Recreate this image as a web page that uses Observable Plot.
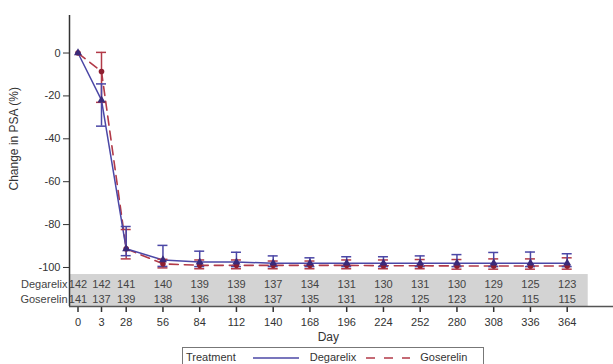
<!DOCTYPE html>
<html>
<head>
<meta charset="utf-8">
<script src="https://cdn.jsdelivr.net/npm/d3@7"></script>
<script src="https://cdn.jsdelivr.net/npm/@observablehq/plot@0.6"></script>
<style>
  html, body { margin: 0; padding: 0; background: #fff; }
  body { width: 613px; height: 364px; overflow: hidden; font-family: "Liberation Sans", Arial, sans-serif; }
  #legend {
    position: absolute; left: 182px; top: 347px; width: 302px; height: 20px;
    border: 1px solid #777; box-sizing: border-box; font-size: 11px; color: #333;
    display: flex; align-items: center; white-space: nowrap;
  }
  #legend span { display: inline-block; }
  #legend svg { display: inline-block; }
</style>
</head>
<body>
<div id="chart"></div>
<div id="legend"></div>
<script>
// ---- data ----
const days = [0, 3, 28, 56, 84, 112, 140, 168, 196, 224, 252, 280, 308, 336, 364];
const degarelixMean  = [0, -22, -91.3, -96.5, -97.5, -97.5, -98, -98, -98, -98, -98, -98, -98, -98, -98];
const degarelixUpper = [0, -14.4, -80.9, -89.7, -92.4, -92.9, -94.6, -95.5, -95, -95, -94.6, -94, -93, -92.8, -93.6];
const degarelixLower = [0, -34.1, -94.5, -99.5, -99.6, -99.6, -99.6, -99.6, -99.6, -99.6, -99.6, -99.6, -99.6, -99.6, -99.6];
const goserelinMean  = [0, -8.6, -91.3, -98.3, -99, -99, -99, -99, -99, -99.2, -99.2, -99.3, -99.3, -99.3, -99.3];
const goserelinUpper = [0, 0.3, -82.3, -96.2, -96.5, -96.5, -97, -97, -96.5, -96.5, -96.3, -96.3, -96, -96, -95.5];
const goserelinLower = [0, -23, -96, -100.2, -100.6, -100.6, -100.6, -100.6, -100.6, -100.6, -100.6, -100.8, -100.8, -100.8, -100.8];
const degarelixN = [142, 142, 141, 140, 139, 139, 137, 134, 131, 130, 131, 130, 129, 125, 123];
const goserelinN = [141, 137, 139, 138, 136, 138, 137, 135, 131, 128, 125, 123, 120, 115, 115];
const yTicks = [0, -20, -40, -60, -80, -100];
const treatments = ["Degarelix", "Goserelin"];

// ---- layout constants ----
const xMin = -1, xMax = 400;
const yMin = -118.2, yMax = 17.5;
const bandTop = -103.3, bandEnd = 380;
const rowY = {Degarelix: -108.1, Goserelin: -114.9};
const blue = "#4b47a6", red = "#b23a48";
// piecewise day axis (0–3–28 stretched, then linear)
const dayPos = d3.scaleLinear().domain([xMin, 0, 3, 28, 364, xMax]).range([69, 77.5, 101, 125.7, 566.7, 614]);

const toRows = (name, mean, up, lo, n) => days.map((d, i) => ({
  treatment: name, day: d, mean: mean[i], upper: up[i], lower: lo[i], n: n[i]
}));
const deg = toRows("Degarelix", degarelixMean, degarelixUpper, degarelixLower, degarelixN);
const gos = toRows("Goserelin", goserelinMean, goserelinUpper, goserelinLower, goserelinN);
const hasBar = r => r.upper !== r.lower;

const chart = Plot.plot({
  width: 613,
  height: 346,
  marginLeft: 69,
  marginRight: 0,
  marginTop: 15,
  marginBottom: 40,
  style: {fontFamily: "'Liberation Sans', Arial, sans-serif", fontSize: "11px", color: "#333", background: "#fff"},
  x: {transform: d => dayPos(d), domain: [dayPos(xMin), dayPos(xMax)], range: [dayPos(xMin), dayPos(xMax)], axis: null},
  y: {domain: [yMin, yMax]},
  marks: [
    Plot.rect([0], {x1: () => xMin, x2: () => bandEnd, y1: () => yMin, y2: () => bandTop, fill: "#d3d3d3"}),
    Plot.axisY({ticks: yTicks, tickSize: 6, tickPadding: 3, tickFormat: d => String(d), label: null, stroke: "#333", fill: "#333", fontSize: 11}),
    // x axis ticks and labels (day scale)
    Plot.ruleX(days, {x: d => d, y1: () => yMin, y2: () => yMin, insetBottom: -6, stroke: "#333", strokeWidth: 1.5}),
    Plot.text(days, {x: d => d, y: () => yMin, dy: 16, text: d => String(d), fill: "#333", fontSize: 11}),
    Plot.ruleX([xMin], {y1: yMin, y2: yMax, stroke: "#333", strokeWidth: 1.5}),
    Plot.ruleY([yMin], {stroke: "#555", strokeWidth: 1.5}),
    // lines
    Plot.line(gos, {x: "day", y: "mean", stroke: red, strokeWidth: 1.6, strokeDasharray: "9,6"}),
    Plot.line(deg, {x: "day", y: "mean", stroke: blue, strokeWidth: 1.5}),
    // error bars
    Plot.ruleX(gos.filter(hasBar), {x: "day", y1: "lower", y2: "upper", stroke: red, strokeWidth: 1.5}),
    Plot.ruleY(gos.filter(hasBar), {x1: "day", x2: "day", y: "upper", stroke: red, strokeWidth: 1.5, insetLeft: -5, insetRight: -5}),
    Plot.ruleY(gos.filter(hasBar), {x1: "day", x2: "day", y: "lower", stroke: red, strokeWidth: 1.5, insetLeft: -5, insetRight: -5}),
    Plot.ruleX(deg.filter(hasBar), {x: "day", y1: "lower", y2: "upper", stroke: blue, strokeWidth: 1.5}),
    Plot.ruleY(deg.filter(hasBar), {x1: "day", x2: "day", y: "upper", stroke: blue, strokeWidth: 1.5, insetLeft: -5, insetRight: -5}),
    Plot.ruleY(deg.filter(hasBar), {x1: "day", x2: "day", y: "lower", stroke: blue, strokeWidth: 1.5, insetLeft: -5, insetRight: -5}),
    // markers
    Plot.dot(gos, {x: "day", y: "mean", r: 2.8, fill: "#8e1f30", stroke: "none"}),
    Plot.dot(deg, {x: "day", y: "mean", r: 3, symbol: "triangle", fill: "#3a2a7a", stroke: "none"}),
    // number at risk table
    Plot.text(deg, {x: "day", y: () => rowY.Degarelix, text: d => String(d.n), fill: "#444", fontSize: 11}),
    Plot.text(gos, {x: "day", y: () => rowY.Goserelin, text: d => String(d.n), fill: "#444", fontSize: 11}),
    Plot.text(treatments, {frameAnchor: "left", y: d => rowY[d], text: d => d, textAnchor: "end", dx: -2, fill: "#444", fontSize: 11}),
    // axis titles
    Plot.text(["Change in PSA (%)"], {x: () => xMin, y: () => -40, text: d => d, rotate: -90, dx: -55, fill: "#333", fontSize: 12}),
    Plot.text(["Day"], {x: () => (days[0] + days[days.length - 1]) / 2, y: () => yMin, text: d => d, dy: 31, fill: "#333", fontSize: 12})
  ]
});
document.getElementById("chart").appendChild(chart);

// legend
const legend = document.getElementById("legend");
const item = (html, ml) => { const s = document.createElement("span"); s.innerHTML = html; s.style.marginLeft = ml + "px"; legend.appendChild(s); };
item("Treatment", 3);
item(`<svg width="46" height="6"><line x1="0" y1="3" x2="46" y2="3" stroke="${blue}" stroke-width="1.6"/></svg>`, 17);
item(treatments[0], 11);
item(`<svg width="44" height="6"><line x1="0" y1="3" x2="44" y2="3" stroke="${red}" stroke-width="1.6" stroke-dasharray="9,9"/></svg>`, 10);
item(treatments[1], 10);
</script>
</body>
</html>
